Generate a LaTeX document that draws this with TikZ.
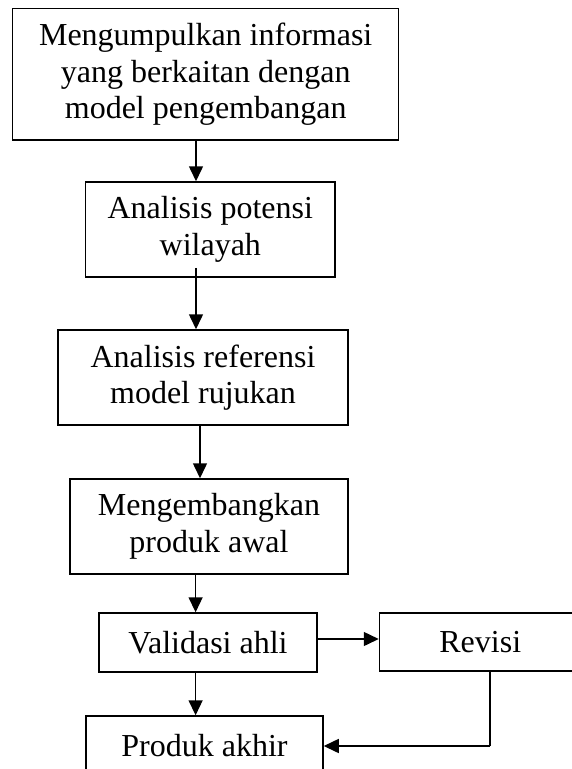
\documentclass[tikz,border=0pt]{standalone}
\usepackage{fontspec}
\setmainfont{Liberation Serif}
\usetikzlibrary{arrows.meta}
\begin{document}
\begin{tikzpicture}[x=1pt,y=-1pt,
  box/.style={draw,line width=1.5pt,inner sep=0pt,align=center,
    font=\fontsize{32}{36.5}\selectfont},
  arr/.style={line width=1.5pt,-{Triangle[length=15pt,width=14pt]}},
  link/.style={line width=1.5pt}]
\useasboundingbox (0,0) rectangle (571,769);
\node[box,minimum width=386pt,minimum height=131.7pt] (b1) at (205.7,74.2)
  {Mengumpulkan informasi\\yang berkaitan dengan\\model pengembangan};
\node[box,minimum width=249.4pt,minimum height=95pt] (b2) at (210.3,229.5)
  {Analisis potensi\\wilayah};
\node[box,minimum width=290pt,minimum height=95pt] (b3) at (203,377.5)
  {Analisis referensi\\model rujukan};
\node[box,minimum width=278pt,minimum height=95pt] (b4) at (209,526.5)
  {Mengembangkan\\produk awal};
\node[box,minimum width=218pt,minimum height=59pt] (b5) at (208,642.5)
  {Validasi ahli};
\node[box,minimum width=201.5pt,minimum height=58pt] (rev) at (480.25,642)
  {Revisi};
\node[box,minimum width=237pt,minimum height=60pt] (b6) at (204.5,746)
  {Produk akhir};
\coordinate (x1) at (196,0);
\coordinate (x3) at (200,0);
\coordinate (x4) at (195.6,0);
\coordinate (yv) at (0,639);
\coordinate (xr) at (490,0);
\coordinate (yr) at (0,746);
\draw[arr] (b1.south -| x1) -- (b2.north -| x1);
\draw[arr] ([yshift=10pt]b2.south -| x1) -- (b3.north -| x1);
\draw[arr] (b3.south -| x3) -- (b4.north -| x3);
\draw[arr] (b4.south -| x4) -- (b5.north -| x4);
\draw[arr] (b5.east |- yv) -- (rev.west |- yv);
\draw[arr] (b5.south -| x4) -- (b6.north -| x4);
\draw[link] (rev.south -| xr) -- (xr |- yr) coordinate (corner);
\draw[arr] (corner) -- (b6.east |- yr);
\end{tikzpicture}
\end{document}
